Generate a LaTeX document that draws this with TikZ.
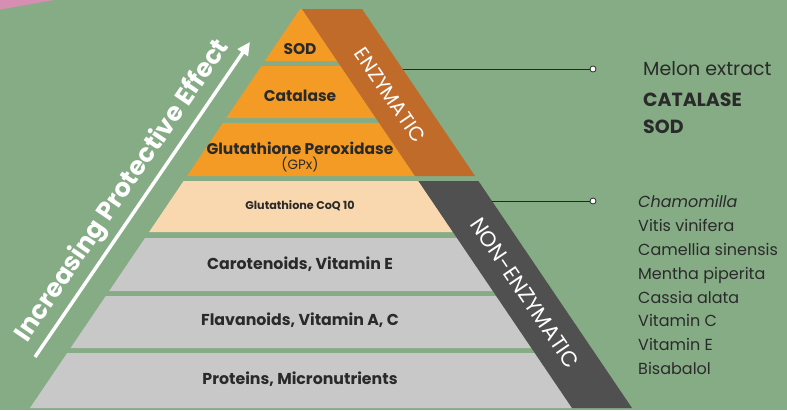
\documentclass[tikz,border=0pt]{standalone}
\usepackage{fontspec}
\setmainfont{Poppins}
\usetikzlibrary{arrows.meta}
\definecolor{bgc}{HTML}{85AC85}
\definecolor{pinkc}{HTML}{D68FB2}
\definecolor{orangec}{HTML}{F49B25}
\definecolor{brownc}{HTML}{C16B2A}
\definecolor{peachc}{HTML}{F9D8AF}
\definecolor{greyc}{HTML}{C8C8C8}
\definecolor{darkc}{HTML}{505050}
\definecolor{txtc}{HTML}{2A2A2A}
\def\pyrk{0.6767}
\newcommand\tierfill[3]{\fill[#3] ({300-\pyrk*(#1-9)},#1) -- ({302+\pyrk*(#1-9)},#1) -- ({302+\pyrk*(#2-9)},#2) -- ({300-\pyrk*(#2-9)},#2) -- cycle;}
\tikzset{
  tiertext/.style={font=\fontsize{15.8}{18}\selectfont\bfseries, text=txtc, anchor=base, inner sep=0pt},
  bandtext/.style={font=\fontsize{20}{22}\selectfont, text=white, inner sep=0pt},
  sidetext/.style={font=\fontsize{19}{22}\selectfont, text=txtc, anchor=base west, inner sep=0pt},
  listtext/.style={font=\fontsize{16}{19}\selectfont, text=txtc, anchor=base west, inner sep=0pt},
  dotc/.style={circle, draw=txtc, fill=white, line width=0.8pt, inner sep=0pt, minimum size=6pt},
  linkc/.style={draw=txtc!90!black, line width=0.9pt}
}
\begin{document}
\begin{tikzpicture}[x=1pt,y=-1pt]
\useasboundingbox (0,0) rectangle (787,410);
\fill[bgc] (0,0) rectangle (787,410);
\fill[pinkc] (0,0) -- (54,0) -- (0,9.5) -- cycle;
% tiers
\tierfill{9}{61}{orangec}
\tierfill{66}{118}{orangec}
\tierfill{123}{176}{orangec}
\tierfill{181}{232}{peachc}
\tierfill{238}{291}{greyc}
\tierfill{296}{348}{greyc}
\tierfill{353}{408}{greyc}
% bands
\fill[brownc] (302,9) -- (362,9) -- ({362+\pyrk*167},176) -- ({302+\pyrk*167},176) -- cycle;
\fill[darkc] ({302+\pyrk*172},181) -- ({362+\pyrk*172},181) -- ({362+\pyrk*399},408) -- ({302+\pyrk*399},408) -- cycle;
\node[bandtext, rotate=-55.9] (enz) at (390,95) {ENZYMATIC};
\node[bandtext, font=\fontsize{21.5}{23}\selectfont, rotate=-55.9] (nonenz) at (525,293) {NON-ENZYMATIC};
% tier labels
\node[tiertext, font=\fontsize{15.5}{18}\selectfont\bfseries] (sod) at (300,54) {SOD};
\node[tiertext, font=\fontsize{15.5}{18}\selectfont\bfseries] (cat) at (300,101.7) {Catalase};
\node[tiertext, font=\fontsize{15.5}{18}\selectfont\bfseries] (gpx) at (300,154) {Glutathione Peroxidase};
\node[tiertext, font=\fontsize{13.5}{15}\selectfont] (gpxs) at (300,169) {(GPx)};
\node[tiertext, font=\fontsize{11.2}{13}\selectfont\bfseries] (coq) at (300,209.3) {Glutathione CoQ 10};
\node[tiertext] (car) at (300,269.3) {Carotenoids, Vitamin E};
\node[tiertext] (fla) at (300,325.7) {Flavanoids, Vitamin A, C};
\node[tiertext] (pro) at (300,384) {Proteins, Micronutrients};
% arrow and label
\coordinate (a0) at (35,357);
\coordinate (a1) at (250,42);
\draw[white, line width=3.5pt, -{Triangle[length=13pt,width=12pt]}] (a0) -- (a1);
\node[font=\fontsize{25.5}{28}\selectfont\bfseries, text=white, rotate=55.7, inner sep=0pt] (inc) at (123,191) {Increasing Protective Effect};
% connectors
\coordinate (e1) at ({362+\pyrk*60},69);
\coordinate (e2) at ({362+\pyrk*192},201);
\node[dotc] (c1) at (593,69) {};
\node[dotc] (c2) at (593,201) {};
\draw[linkc] (e1) -- (c1);
\draw[linkc] (e2) -- (c2);
% right texts
\node[sidetext] (mel) at (643,75) {Melon extract};
\node[sidetext, font=\fontsize{19}{22}\selectfont\bfseries] (rcat) at (643,106.7) {CATALASE};
\node[sidetext, font=\fontsize{19}{22}\selectfont\bfseries] (rsod) at (643,133.3) {SOD};
\node[listtext, font=\fontsize{16}{19}\selectfont\itshape] (l1) at (638,207.7) {Chamomilla};
\node[listtext] (l2) at (638,231.7) {Vitis vinifera};
\node[listtext] (l3) at (638,255.5) {Camellia sinensis};
\node[listtext] (l4) at (638,279.3) {Mentha piperita};
\node[listtext] (l5) at (638,303) {Cassia alata};
\node[listtext] (l6) at (638,326.8) {Vitamin C};
\node[listtext] (l7) at (638,350.6) {Vitamin E};
\node[listtext] (l8) at (638,374.4) {Bisabalol};
\end{tikzpicture}
\end{document}
